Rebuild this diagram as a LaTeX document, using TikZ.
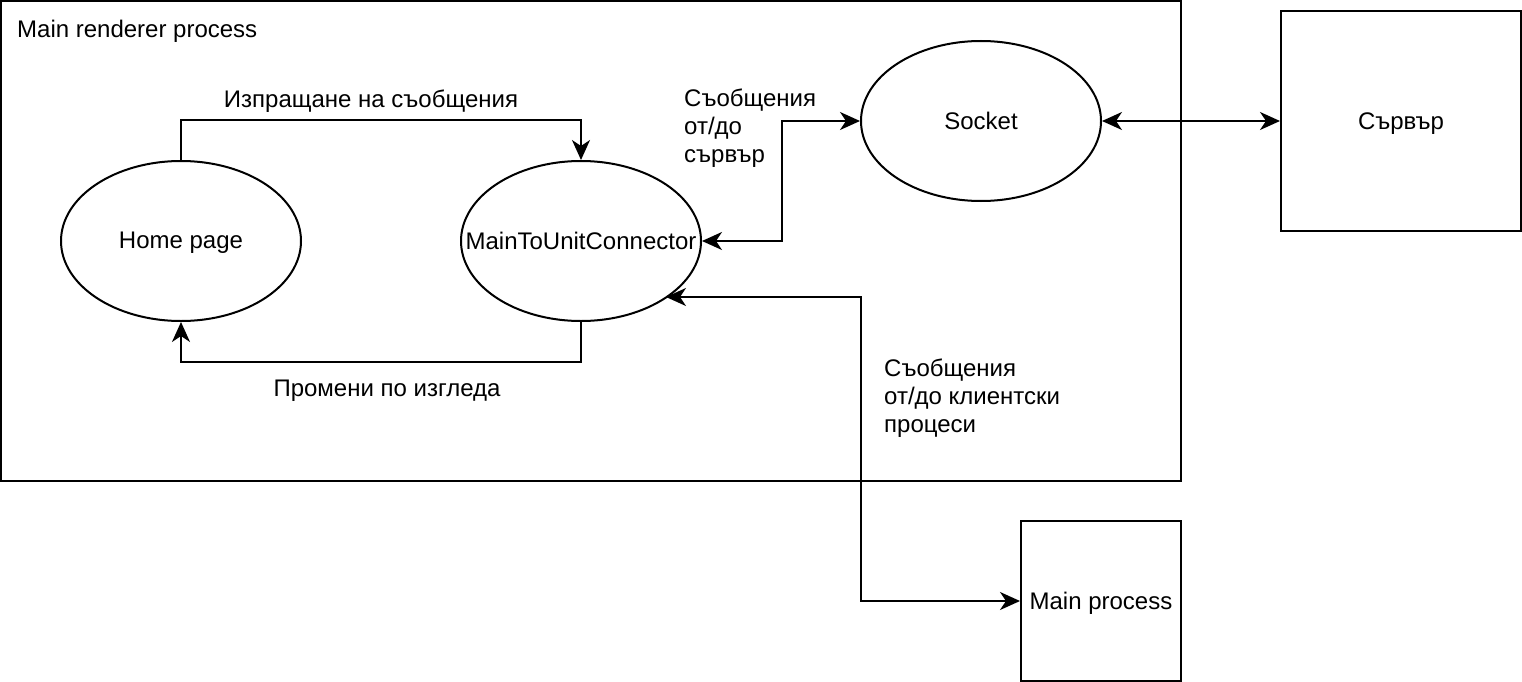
\documentclass[tikz,border=0pt]{standalone}
\usepackage{fontspec}
\setmainfont{Liberation Sans}
\usetikzlibrary{shapes.geometric,arrows.meta}
\tikzset{tip/.tip={Stealth[length=20pt,width=18pt,inset=6pt]},
    proc/.style={ellipse, draw, line width=2pt, minimum width=240pt, minimum height=160pt, inner sep=0pt},
    box/.style={draw, line width=2pt, inner sep=0pt, text depth=0pt}}

\begin{document}
\begin{tikzpicture}[x=1pt, y=-1pt, font=\fontsize{24}{28}\selectfont,
      conn/.style={line width=2pt, -tip},
      both/.style={line width=2pt, tip-tip},
      lbl/.style={align=left, anchor=north west, inner sep=0pt}]
  \useasboundingbox (0,0) rectangle (1522,682);
  % Boxes
  \node[box, minimum width=1180pt, minimum height=480pt] (renderer) at (591,241) {};
  \node[anchor=base west, inner sep=0pt] (rendlbl) at (17,38) {Main renderer process};
  \node[box, minimum width=240pt, minimum height=220pt] (server) at (1401,121) {Сървър};
  \node[box, minimum width=160pt, minimum height=160pt] (mainproc) at (1101,601) {Main process};
  % Processes
  \node[proc, label={[yshift=-2pt]center:{Home page}}] (home) at (181,241) {};
  \node[proc, label=center:{MainToUnitConnector}] (mtu) at (581,241) {};
  \node[proc, label=center:{Socket}] (socket) at (981,121) {};
  \coordinate (mtuse) at (666,297);
  % Connectors
  \draw[conn] (home.north) -- ++(0,-40) -| (mtu.north);
  \node[anchor=base, inner sep=0pt] (sendlbl) at (371,108) {Изпращане на съобщения};
  \draw[conn] (mtu.south) -- ++(0,40) -| (home.south);
  \node[anchor=base, inner sep=0pt] (viewlbl) at (387,396) {Промени по изгледа};
  \draw[both] (mtu.east) -- ++(80,0) |- (socket.west);
  \node[lbl] (srvlbl) at (684,89) {Съобщения\\от/до\\сървър};
  \draw[both] (socket.east) -- (server.west);
  \draw[both] (mtuse) -- ++(195,0) |- (mainproc.west);
  \node[lbl] (clilbl) at (884,359) {Съобщения\\от/до клиентски\\процеси};
\end{tikzpicture}
\end{document}
